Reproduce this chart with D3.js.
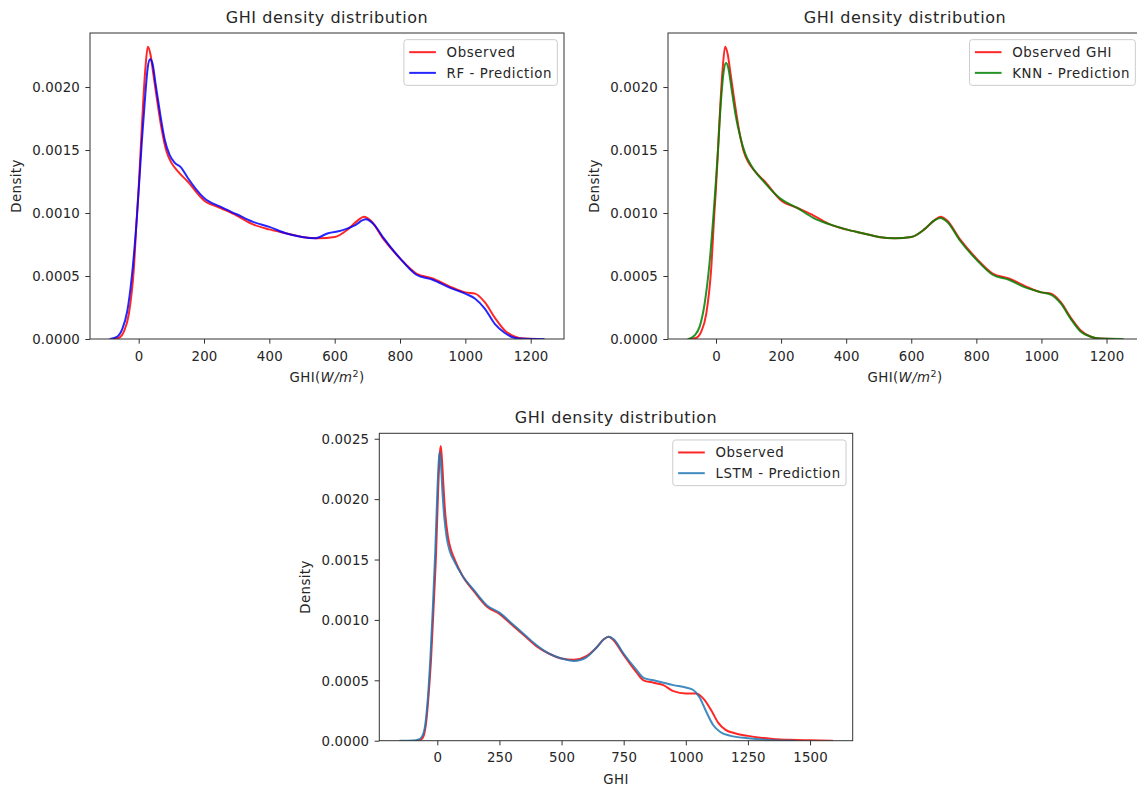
<!DOCTYPE html>
<html><head><meta charset="utf-8">
<script src="https://cdn.jsdelivr.net/npm/d3@7"></script>
<style>
body{margin:0;background:#fff}
svg{display:block}
text{font-family:"DejaVu Sans",sans-serif}
</style>
</head><body>
<svg id="c" width="1137" height="789"></svg>
<script>
// ---------- DATA ----------
const chartTitle = "GHI density distribution";
const yLabel = "Density";

// Panel 1 / 2 : observed GHI density (KDE)
const obsGhiX = [-80,-60,-45,-30,-15,-5,0,10,20,28,36,45,55,70,85,100,120,150,200,250,300,350,400,450,500,550,600,640,670,690,710,750,800,850,900,950,1000,1030,1060,1090,1120,1150,1180,1220];
const obsGhiY = [0,0.00001,0.00006,0.0002,0.00055,0.001,0.0012,0.0017,0.00213,0.00232,0.00226,0.0021,0.00192,0.00167,0.00149,0.0014,0.00133,0.00125,0.0011,0.00104,0.00098,0.00091,0.00087,0.00084,0.00081,0.0008,0.00081,0.00087,0.00094,0.00097,0.00094,0.00079,0.00064,0.00052,0.00048,0.00042,0.00037,0.00036,0.00029,0.00017,0.00007,0.00002,0.000003,0];

// Random Forest prediction
const rfX = [-87,-65,-50,-35,-20,-5,10,20,28,35,42,52,65,80,95,110,130,150,200,250,300,350,400,450,500,540,580,620,660,695,720,750,800,850,900,950,1000,1030,1060,1090,1120,1150,1180,1240];
const rfY = [0,0.00002,0.00008,0.00022,0.00052,0.00098,0.00158,0.00193,0.00216,0.00222,0.00219,0.00202,0.0018,0.00158,0.00146,0.0014,0.00136,0.00128,0.00112,0.00105,0.00099,0.00093,0.00089,0.00084,0.00081,0.0008,0.00084,0.00086,0.0009,0.00095,0.00091,0.0008,0.00064,0.00051,0.00047,0.00041,0.00036,0.00032,0.00024,0.00012,0.00005,0.00001,0.000002,0];

// KNN prediction
const knnX = [-85,-65,-50,-35,-20,-5,5,15,24,31,38,48,60,75,90,110,150,200,250,300,350,400,450,500,550,600,640,670,690,710,750,800,850,900,950,1000,1030,1060,1090,1120,1150,1180,1250];
const knnY = [0,0.00003,0.0001,0.00028,0.0006,0.00108,0.00145,0.00188,0.00213,0.00219,0.00215,0.00198,0.00178,0.0016,0.00147,0.00137,0.00124,0.00111,0.00104,0.00096,0.00091,0.00087,0.00084,0.00081,0.0008,0.00081,0.00087,0.00094,0.00096,0.00093,0.00078,0.00063,0.00051,0.00047,0.00041,0.00037,0.00035,0.00028,0.00016,0.00006,0.00002,0.000003,0];

// Panel 3 : observed GHI (LSTM test set)
const obs3X = [-80,-65,-55,-45,-35,-25,-15,-5,3,9,14,19,25,32,42,55,70,100,150,200,250,300,350,400,450,500,550,600,640,670,690,710,750,800,830,870,910,950,1000,1040,1070,1100,1130,1160,1200,1250,1300,1350,1420,1500,1590];
const obs3Y = [0,0.00001,0.00004,0.00015,0.00038,0.00068,0.0011,0.00155,0.00205,0.00235,0.00244,0.00232,0.0021,0.00188,0.0017,0.00158,0.0015,0.00137,0.00123,0.00111,0.00105,0.00096,0.00087,0.00078,0.00072,0.00068,0.00067,0.0007,0.00077,0.00084,0.00086,0.00083,0.00071,0.00057,0.0005,0.00048,0.00046,0.00041,0.00039,0.00039,0.00035,0.00026,0.00015,0.00009,0.00006,0.00004,0.000025,0.000015,0.000007,0.000003,0];

// LSTM prediction
const lstmX = [-150,-100,-75,-60,-48,-38,-28,-18,-8,0,6,10,15,21,28,38,50,70,100,150,200,250,300,350,400,450,500,550,600,640,670,690,710,750,800,830,870,910,950,1000,1030,1055,1080,1110,1140,1180,1250,1330,1440];
const lstmY = [0,0.000002,0.00001,0.00004,0.00014,0.00035,0.00068,0.0011,0.00158,0.00205,0.00232,0.00239,0.00228,0.00205,0.00185,0.00168,0.00157,0.00148,0.00137,0.00124,0.00112,0.00106,0.00097,0.00088,0.00079,0.00072,0.00068,0.00066,0.00069,0.00077,0.00084,0.00086,0.00084,0.00072,0.00059,0.00052,0.0005,0.00048,0.00046,0.00044,0.00042,0.00036,0.00025,0.00013,0.00007,0.00004,0.00002,0.000006,0];

const ticksX12 = [0,200,400,600,800,1000,1200];
const ticksX3 = [0,250,500,750,1000,1250,1500];
const ticksY12 = [0,0.0005,0.001,0.0015,0.002];
const ticksY3 = [0,0.0005,0.001,0.0015,0.002,0.0025];

const zip = (xs, ys) => xs.map((x, i) => [x, ys[i]]);

// ---------- DRAW ----------
const svg = d3.select("#c");
const FS = 13.33;

const panels = [
  { box:[90,564,33,339], xd:[-149,1302], yd:[0,0.002429], xt:ticksX12, yt:ticksY12, xlab:"math",
    series:[{name:"Observed", data:zip(obsGhiX,obsGhiY), color:"#ff0000"},
            {name:"RF - Prediction", data:zip(rfX,rfY), color:"#0000ff"}]},
  { box:[668,1142,33,339], xd:[-147.5,1309], yd:[0,0.002429], xt:ticksX12, yt:ticksY12, xlab:"math",
    series:[{name:"Observed GHI", data:zip(obsGhiX,obsGhiY), color:"#ff0000"},
            {name:"KNN - Prediction", data:zip(knnX,knnY), color:"#008000"}]},
  { box:[379.3,852.7,433.3,740.7], xd:[-233.4,1671.6], yd:[0,0.002545], xt:ticksX3, yt:ticksY3, xlab:"GHI",
    series:[{name:"Observed", data:zip(obs3X,obs3Y), color:"#ff0000"},
            {name:"LSTM - Prediction", data:zip(lstmX,lstmY), color:"#1f77b4"}]}
];

panels.forEach((p, pi) => {
  const [x0,x1,y0,y1] = p.box;
  const x = d3.scaleLinear().domain(p.xd).range([x0,x1]);
  const y = d3.scaleLinear().domain(p.yd).range([y1,y0]);
  const g = svg.append("g");

  const clipId = "clip"+pi;
  svg.append("clipPath").attr("id",clipId).append("rect")
    .attr("x",x0).attr("y",y0).attr("width",x1-x0).attr("height",y1-y0);

  // lines
  const line = d3.line().x(d=>x(d[0])).y(d=>y(d[1])).curve(d3.curveMonotoneX);
  p.series.forEach(s => {
    g.append("path").attr("d", line(s.data)).attr("fill","none")
      .attr("stroke", s.color).attr("stroke-width",2).attr("stroke-opacity",0.85)
      .attr("stroke-linejoin","round").attr("stroke-linecap","round")
      .attr("clip-path","url(#"+clipId+")");
  });

  // axes
  const xa = g.append("g").attr("transform",`translate(0,${y1})`)
    .call(d3.axisBottom(x).tickValues(p.xt).tickFormat(d3.format("d")).tickSize(4.67).tickSizeOuter(0));
  const ya = g.append("g").attr("transform",`translate(${x0},0)`)
    .call(d3.axisLeft(y).tickValues(p.yt).tickFormat(d3.format(".4f")).tickSize(4.67).tickSizeOuter(0));
  [xa,ya].forEach(a => {
    a.select(".domain").remove();
    a.selectAll("line").attr("stroke","#333").attr("stroke-width",1);
    a.selectAll("text").attr("fill","#262626").style("font-size",FS+"px")
      .style("letter-spacing","0.2px")
      .style("font-family","'DejaVu Sans',sans-serif");
  });
  xa.selectAll("text").attr("y",21.5).attr("dy",null);
  ya.selectAll("text").attr("x",-10).attr("dy","0.36em");

  // frame
  g.append("rect").attr("x",x0).attr("y",y0).attr("width",x1-x0).attr("height",y1-y0)
    .attr("fill","none").attr("stroke","#333").attr("stroke-width",1);

  // title
  g.append("text").attr("x",(x0+x1)/2).attr("y",y0-10.3).attr("text-anchor","middle")
    .attr("fill","#262626").style("font-size","16px").style("letter-spacing","0.55px").text(chartTitle);

  // x label
  const xl = g.append("text").attr("x",(x0+x1)/2).attr("y",y1+43).attr("text-anchor","middle")
    .attr("fill","#262626").style("font-size",FS+"px").style("letter-spacing","0.4px");
  if (p.xlab === "math") {
    xl.append("tspan").text("GHI(");
    xl.append("tspan").style("font-style","italic").text("W/m");
    xl.append("tspan").style("font-size","9.5px").attr("dy",-5.5).text("2");
    xl.append("tspan").attr("dy",5.5).text(")");
  } else {
    xl.text(p.xlab);
  }

  // y label
  const yc = (y0+y1)/2;
  const ylx = x0 - 69;
  g.append("text").attr("transform",`translate(${ylx},${yc}) rotate(-90)`)
    .attr("text-anchor","middle").attr("fill","#262626").style("font-size",FS+"px")
    .style("letter-spacing","0.4px").text(yLabel);

  // legend
  const lg = g.append("g");
  const top = y0 + 6.67;
  const right = x1 - 6.67;
  const texts = p.series.map((s,i) => lg.append("text").attr("fill","#262626")
      .style("font-size",FS+"px").style("letter-spacing","0.6px").text(s.name));
  const tw = d3.max(texts, t => t.node().getComputedTextLength());
  const width = 5.33 + 26.67 + 10.67 + tw + 5.33;
  const left = right - width;
  const height = 45.7;
  lg.insert("rect",":first-child").attr("x",left).attr("y",top).attr("width",width).attr("height",height)
    .attr("rx",2.7).attr("fill","#fff").attr("fill-opacity",0.8).attr("stroke","#cccccc").attr("stroke-width",1);
  p.series.forEach((s,i) => {
    const cy = top + 12.5 + i*20.7;
    lg.append("line").attr("x1",left+5.33).attr("x2",left+32).attr("y1",cy).attr("y2",cy)
      .attr("stroke",s.color).attr("stroke-width",2).attr("stroke-opacity",0.85);
    texts[i].attr("x",left+42.67).attr("y",cy+4.8);
  });
});
</script>
</body></html>
